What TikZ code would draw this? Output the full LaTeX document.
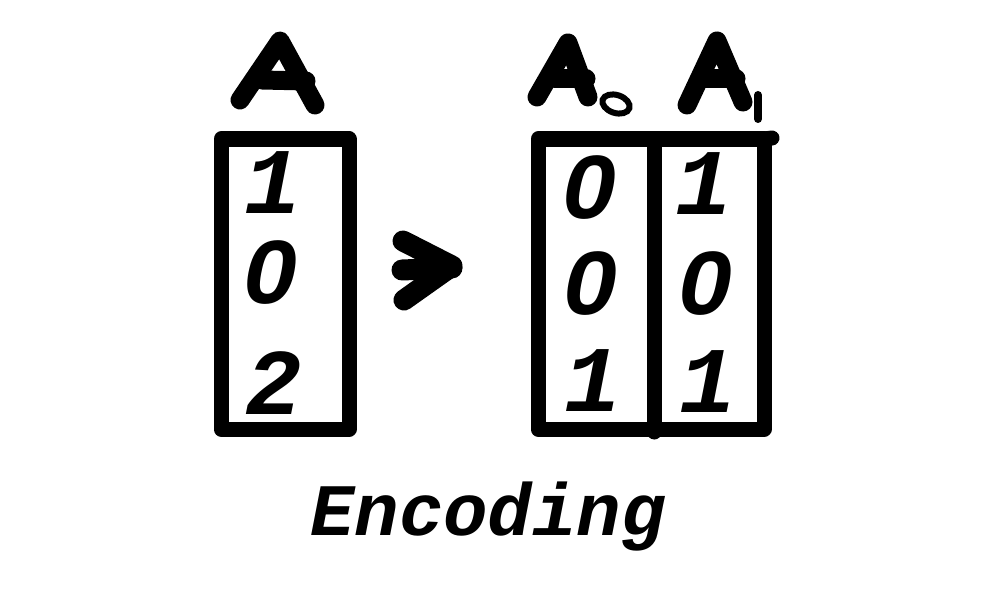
\documentclass[tikz,border=0pt]{standalone}
\usepackage{fontspec}
\newfontfamily\monobi{Liberation Mono}[BoldItalicFont={* Bold Italic}]
\begin{document}
\begin{tikzpicture}[x=1pt,y=-1pt,
  boxline/.style={line width=15pt,line join=round,line cap=round},
  penA/.style={line width=19pt,line cap=round,line join=round},
  digit/.style={font=\monobi\bfseries\itshape\fontsize{94}{94}\selectfont,inner sep=0pt,anchor=center},
  caption/.style={font=\monobi\bfseries\itshape\fontsize{74}{74}\selectfont,inner sep=0pt,anchor=base},
  nodot/.style={fill=white}]
\useasboundingbox[fill=white] (0,0) rectangle (1006,615);
% left box
\draw[boxline] (221,139) rectangle (349,429);
\node[digit] (l1) at (273,183) {1};
\node[digit] (l2) at (271,273) {0};
\node[digit] (l3) at (274,383) {2};
% right box
\draw[boxline] (538,139) rectangle (764,429);
\draw[boxline] (764,139) -- (772,138);
\draw[line width=15pt,line cap=round] (654,139) -- (654,432);
\node[digit] (a1) at (590,188) {0};
\node[digit] (a2) at (591,284) {0};
\node[digit] (a3) at (593,381) {1};
\node[digit] (b1) at (704,184) {1};
\node[digit] (b2) at (706,284) {0};
\node[digit] (b3) at (708,382) {1};
\foreach \z in {l2,a1,a2,b2} \fill[nodot] ([shift={(0.5,-2)}]\z.center) ellipse [x radius=8pt,y radius=12pt];
% labels A
\draw[penA] (240,100) -- (280,41) -- (315,105);
\draw[penA] (262,80) -- (306,81);
\draw[penA] (537,97) -- (568,43) -- (588,97);
\draw[penA] (555,79) -- (586,79);
\draw[line width=6pt,rotate around={-18:(616,104)}] (616,104) ellipse [x radius=14pt,y radius=9pt];
\draw[penA] (687,105) -- (717,41) -- (743,102);
\draw[penA] (704,79) -- (736,79);
\draw[line width=8pt,line cap=round] (758,95) -- (758,119);
% arrow
\draw[line width=21pt,line cap=round,line join=round] (403,241) -- (452,266) -- (404,300);
\draw[line width=21pt,line cap=round] (402,270) -- (452,268);
% caption
\node[caption] (cap) at (488,535) {Encoding};
\end{tikzpicture}
\end{document}
